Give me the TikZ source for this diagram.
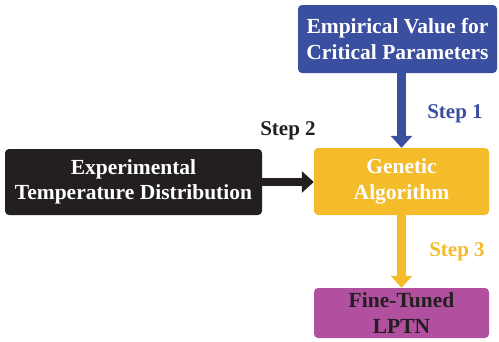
\documentclass[tikz,border=0pt]{standalone}
\usepackage{fontspec}
\setmainfont{Liberation Serif}
\usetikzlibrary{arrows.meta}
\usetikzlibrary{positioning}

\definecolor{stepblue}{HTML}{3A4FA0}
\definecolor{stepblack}{HTML}{231F20}
\definecolor{stepyellow}{HTML}{F4BB2A}
\definecolor{steppurple}{HTML}{B0509F}

\begin{document}
\begin{tikzpicture}[x=1pt,y=-1pt,
    box/.style={rounded corners=4pt,draw=none,align=center,font=\fontsize{21.5}{25.5}\selectfont\bfseries,inner sep=0pt},
    fatarrow/.style={line width=8.5pt,-{Triangle[width=21pt,length=12pt]}},
    steplabel/.style={font=\fontsize{21}{24}\selectfont\bfseries}]
                    \useasboundingbox (0,0) rectangle (499,341);
                    % boxes
                    \node[box,fill=stepblue,text=white,minimum width=199pt,minimum height=68pt] (empirical) at (397.5,39) {Empirical Value for\\Critical Parameters};
                    \node[box,fill=stepblack,text=white,minimum width=257pt,minimum height=66pt] (experimental) at (133.5,182) {Experimental\\Temperature Distribution};
                    \node[box,fill=stepyellow,text=white,minimum width=175pt,minimum height=67pt] (ga) at (401.5,181.5) {Genetic\\Algorithm};
                    \node[box,fill=steppurple,text=stepblack,minimum width=175pt,minimum height=50pt] (lptn) at (401.5,313) {Fine-Tuned\\LPTN};
                    % arrows
                    \draw[fatarrow,stepblue] (empirical.south -| ga.north) -- (ga.north);
                    \draw[fatarrow,stepblack] (experimental.east) -- (ga.west |- experimental.east);
                    \draw[fatarrow,stepyellow] (ga.south) -- (lptn.north);
                    % step labels
                    \node[steplabel,text=stepblue] (step1) at (455,114) {Step 1};
                    \node[steplabel,text=stepblack] (step2) at (288,131) {Step 2};
                    \node[steplabel,text=stepyellow] (step3) at (457,252) {Step 3};
                \end{tikzpicture}
\end{document}
